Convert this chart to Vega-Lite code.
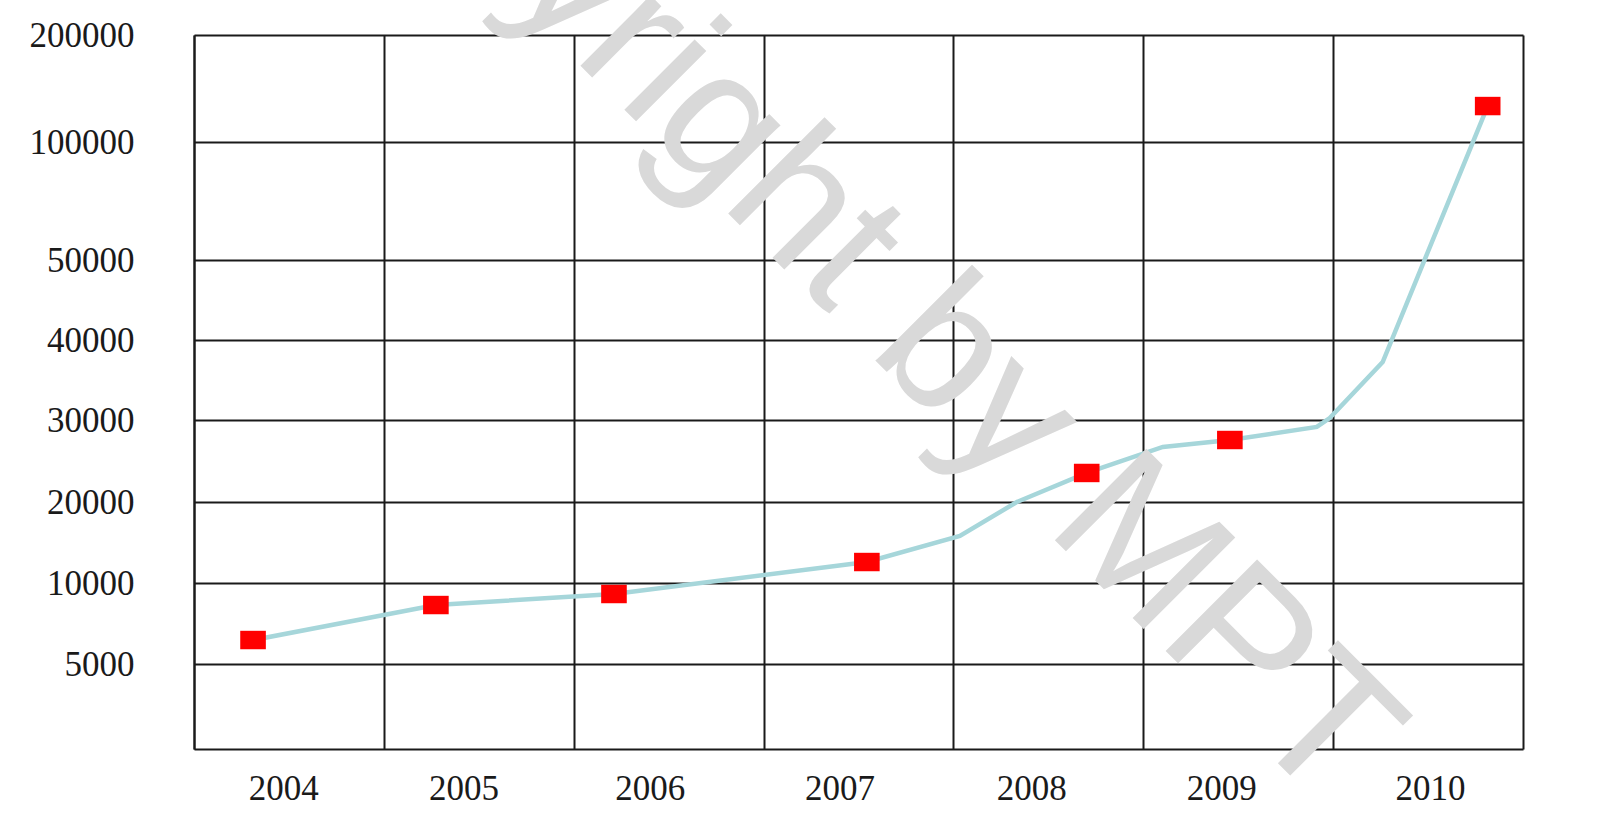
{
  "$schema": "https://vega.github.io/schema/vega-lite/v6.json",
  "width": 1329,
  "height": 714,
  "autosize": {"type": "none"},
  "padding": {"left": 194, "top": 35, "right": 77, "bottom": 71},
  "background": "white",
  "config": {"view": {"stroke": null}},
  "datasets": {
    "trend": [
      {"year": 2004.311, "value": 6480},
      {"year": 2005.274, "value": 8640},
      {"year": 2006.212, "value": 9320},
      {"year": 2007.544, "value": 12590},
      {"year": 2008.034, "value": 15800},
      {"year": 2008.334, "value": 20000},
      {"year": 2008.702, "value": 23540},
      {"year": 2009.103, "value": 26710},
      {"year": 2009.456, "value": 27560},
      {"year": 2009.914, "value": 29150},
      {"year": 2009.982, "value": 30250},
      {"year": 2010.261, "value": 37250},
      {"year": 2010.814, "value": 133600}
    ],
    "points": [
      {"year": 2004.311, "value": 6480},
      {"year": 2005.274, "value": 8640},
      {"year": 2006.212, "value": 9320},
      {"year": 2007.544, "value": 12590},
      {"year": 2008.702, "value": 23540},
      {"year": 2009.456, "value": 27560},
      {"year": 2010.814, "value": 133600}
    ]
  },
  "layer": [
    {
      "data": {"name": "trend"},
      "mark": {"type": "line", "color": "#a6d6da", "strokeWidth": 4.5, "interpolate": "linear"},
      "encoding": {
        "x": {
          "field": "year",
          "type": "quantitative",
          "scale": {"domain": [2004, 2011], "nice": false, "zero": false},
          "axis": {
            "values": [2004, 2004.47, 2005, 2005.42, 2006, 2006.4, 2007, 2007.4, 2008, 2008.41, 2009, 2009.41, 2010, 2010.51, 2011],
            "labelExpr": "datum.value % 1 === 0 ? '' : '' + floor(datum.value)",
            "grid": true,
            "gridOpacity": {"condition": {"test": "datum.value % 1 === 0", "value": 1}, "value": 0},
            "gridColor": "#1a1a1a",
            "gridWidth": 2,
            "ticks": false,
            "tickSize": 0,
            "domain": true,
            "domainColor": "#1a1a1a",
            "domainWidth": 2,
            "labelFont": "Liberation Serif",
            "labelFontSize": 35,
            "labelColor": "#1a1a1a",
            "labelPadding": 22,
            "labelOverlap": false,
            "labelFlush": false,
            "labelBound": false,
            "title": null
          }
        },
        "y": {
          "field": "value",
          "type": "quantitative",
          "scale": {
            "type": "linear",
            "domain": [0, 5000, 10000, 20000, 30000, 40000, 50000, 100000, 200000],
            "range": [714, 629, 548, 467, 385, 305, 225, 107, 0],
            "nice": false,
            "zero": false
          },
          "axis": {
            "values": [5000, 10000, 20000, 30000, 40000, 50000, 100000, 200000],
            "format": "d",
            "grid": true,
            "gridColor": "#1a1a1a",
            "gridWidth": 2,
            "ticks": false,
            "tickSize": 0,
            "domain": true,
            "domainColor": "#1a1a1a",
            "domainWidth": 2,
            "labelFont": "Liberation Serif",
            "labelFontSize": 35,
            "labelColor": "#1a1a1a",
            "labelPadding": 60,
            "labelOverlap": false,
            "labelFlush": false,
            "labelBound": false,
            "title": null
          }
        }
      }
    },
    {
      "data": {"name": "points"},
      "mark": {"type": "point", "shape": "M-1.25,-0.9H1.25V0.9H-1.25Z", "filled": true, "color": "#ff0000", "opacity": 1, "size": 420},
      "encoding": {
        "x": {"field": "year", "type": "quantitative"},
        "y": {"field": "value", "type": "quantitative"}
      }
    },
    {
      "data": {"values": [{}]},
      "mark": {"type": "text", "font": "Liberation Sans", "fontSize": 188, "color": "#d9d9d9", "opacity": 1, "angle": 45, "align": "center", "baseline": "alphabetic"},
      "encoding": {
        "x": {"datum": 2007.154, "type": "quantitative"},
        "y": {"datum": 47750, "type": "quantitative"},
        "text": {"value": "Copyright by MPT"}
      }
    }
  ]
}
